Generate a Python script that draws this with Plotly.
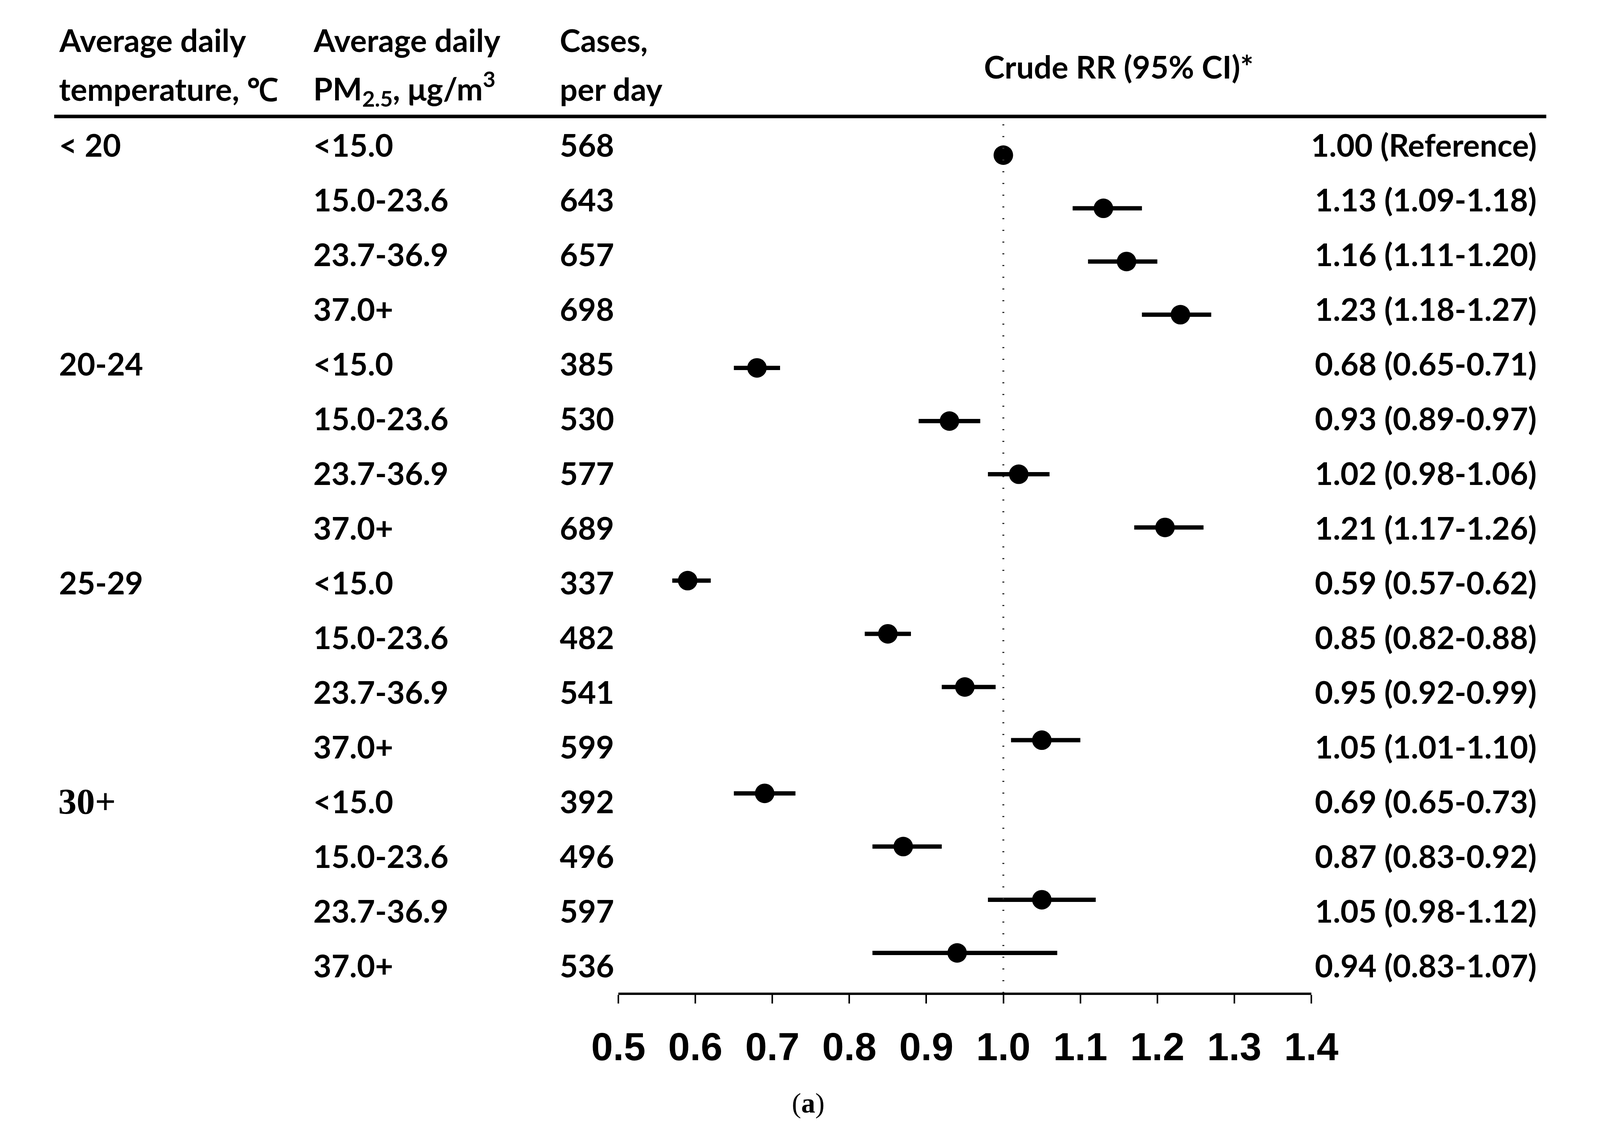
import plotly.graph_objects as go

# ---------------- data ----------------
temp_groups = ["< 20", "20-24", "25-29", "30+"]
pm_levels = ["<15.0", "15.0-23.6", "23.7-36.9", "37.0+"]
cases = [568, 643, 657, 698, 385, 530, 577, 689, 337, 482, 541, 599, 392, 496, 597, 536]
rr = [1.00, 1.13, 1.16, 1.23, 0.68, 0.93, 1.02, 1.21, 0.59, 0.85, 0.95, 1.05, 0.69, 0.87, 1.05, 0.94]
ci_lo = [1.00, 1.09, 1.11, 1.18, 0.65, 0.89, 0.98, 1.17, 0.57, 0.82, 0.92, 1.01, 0.65, 0.83, 0.98, 0.83]
ci_hi = [1.00, 1.18, 1.20, 1.27, 0.71, 0.97, 1.06, 1.26, 0.62, 0.88, 0.99, 1.10, 0.73, 0.92, 1.12, 1.07]
x_ticks = [0.5, 0.6, 0.7, 0.8, 0.9, 1.0, 1.1, 1.2, 1.3, 1.4]
headers = [["Average daily", "temperature, ℃"],
           ["Average daily", "PM<sub>2.5</sub>, μg/m<sup>3</sup>"],
           ["Cases,", "per day"]]
rr_title = "Crude RR (95% CI)*"
panel_label = "(<b>a</b>)"

# ---------------- layout constants ----------------
# The browser viewport is 4096 px wide; the page body adds an 8 px margin.
REF_W, REF_H = 4801, 2930
VIEW_W = 4096
MARGIN = 8
FIG_W, FIG_H = VIEW_W - MARGIN, REF_H - MARGIN
SX = VIEW_W / REF_W

FONT = "Lato"
FS = 80
n = len(rr)
rows = list(range(n))
MARK_Y0, MARK_PITCH = 397.0, 136.1
TEXT_Y0, TEXT_PITCH = 370.0, 140.0
AXIS_PX = 2540.0

def px(x):          # reference-picture x  -> paper fraction
    return (x * SX - MARGIN) / FIG_W

def py(y):          # reference-picture y  -> paper fraction
    return 1 - (y - MARGIN) / FIG_H

def fig_y(y):       # reference-picture y -> figure pixel y
    return y - MARGIN

y_top = -fig_y(MARK_Y0) / MARK_PITCH
y_bot = (fig_y(AXIS_PX) - fig_y(MARK_Y0)) / MARK_PITCH

def text_row(i):
    return (TEXT_Y0 + TEXT_PITCH * i - MARK_Y0) / MARK_PITCH

fig = go.Figure()
fig.add_trace(go.Scatter(
    x=rr, y=rows, mode="markers",
    marker=dict(color="black", size=50, symbol="circle"),
    error_x=dict(type="data", symmetric=False,
                 array=[h - r for h, r in zip(ci_hi, rr)],
                 arrayminus=[r - l for r, l in zip(rr, ci_lo)],
                 color="black", thickness=11, width=0),
    showlegend=False, hoverinfo="skip"))

ann = []
def add_text(text, x, y, yref="y", xanchor="left", family=FONT, size=FS, bold=True):
    ann.append(dict(text=text, x=x, y=y, xref="paper", yref=yref,
                    xanchor=xanchor, yanchor="middle", showarrow=False,
                    font=dict(family=family, size=size, color="black",
                              weight="bold" if bold else "normal")))

col_x = [96, 886, 1652]
for cx, (l1, l2) in zip(col_x, headers):
    add_text(l1, px(cx), py(102), yref="paper")
    add_text(l2, px(cx), py(227), yref="paper")
add_text(rr_title, px(3391), py(170), yref="paper", xanchor="center")

for i in rows:
    if i % len(pm_levels) == 0:
        g = temp_groups[i // len(pm_levels)]
        if g == "30+":
            add_text(g, px(93), text_row(i), family="Liberation Serif", size=94)
        else:
            add_text(g, px(96), text_row(i))
    add_text(pm_levels[i % len(pm_levels)], px(886), text_row(i))
    add_text(str(cases[i]), px(1652), text_row(i))
    if ci_lo[i] == ci_hi[i]:
        lbl = f"{rr[i]:.2f} (Reference)"
    else:
        lbl = f"{rr[i]:.2f} ({ci_lo[i]:.2f}-{ci_hi[i]:.2f})"
    add_text(lbl, px(4692), text_row(i), xanchor="right")

add_text(panel_label, px(2373), py(2823), yref="paper", family="Liberation Serif", size=72, bold=False)

shapes = [
    dict(type="line", xref="paper", yref="paper", x0=px(83), x1=px(4719),
         y0=py(298), y1=py(298), line=dict(color="black", width=9)),
    dict(type="line", xref="x", yref="paper", x0=1.0, x1=1.0,
         y0=py(318), y1=py(AXIS_PX), line=dict(color="#333333", width=5, dash="3px,27px")),
]

fig.update_layout(
    width=FIG_W, height=FIG_H,
    margin=dict(l=0, r=0, t=0, b=0),
    paper_bgcolor="white", plot_bgcolor="white",
    annotations=ann, shapes=shapes,
    xaxis=dict(domain=[px(1836), px(3989)], range=[0.5, 1.4],
               tickvals=x_ticks, ticktext=[f"{v:.1f}" for v in x_ticks],
               tickfont=dict(family="Liberation Sans", size=100, color="black", weight="bold"),
               ticks="outside", ticklen=22, tickwidth=4, tickcolor="black",
               showline=True, linecolor="black", linewidth=6,
               showgrid=False, zeroline=False, ticklabelstandoff=25),
    yaxis=dict(domain=[py(AXIS_PX), 1], range=[y_bot, y_top], visible=False,
               showgrid=False, zeroline=False),
)

fig.write_html("out.html")
